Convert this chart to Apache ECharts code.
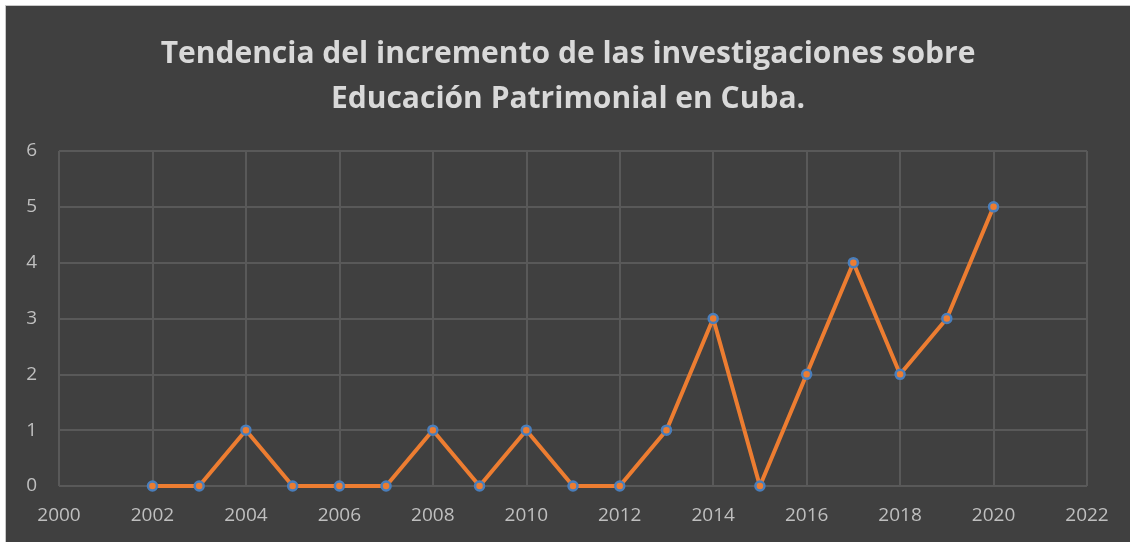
<!DOCTYPE html>
<html>
<head>
<meta charset="utf-8">
<script src="https://cdn.jsdelivr.net/npm/echarts@6/dist/echarts.min.js"></script>
<style>
  html, body { margin: 0; padding: 0; background: #ffffff; }
  #main {
    position: absolute; left: 5px; top: 5px;
    width: 1125px; height: 537px;
    border-left: 1px solid #c8c8c8; border-top: 1px solid #c8c8c8;
    box-sizing: border-box;
  }
</style>
</head>
<body>
<div id="main"></div>
<script>
// años y número de investigaciones
var years = [2002, 2003, 2004, 2005, 2006, 2007, 2008, 2009, 2010, 2011, 2012, 2013, 2014, 2015, 2016, 2017, 2018, 2019, 2020];
var counts = [0, 0, 1, 0, 0, 0, 1, 0, 1, 0, 0, 1, 3, 0, 2, 4, 2, 3, 5];
var titleText = 'Tendencia del incremento de las investigaciones sobre\nEducación Patrimonial en Cuba.';

var points = [];
for (var i = 0; i < years.length; i++) {
  points.push([years[i], counts[i]]);
}

var myChart = echarts.init(document.getElementById('main'));
var option = {
  backgroundColor: '#404040',
  animation: false,
  title: {
    text: titleText,
    left: 'center',
    top: 21,
    textStyle: {
      color: '#d9d9d9',
      fontFamily: 'Open Sans',
      fontWeight: 'bold',
      fontSize: 30,
      lineHeight: 45
    }
  },
  grid: {
    left: 53,
    right: 43,
    top: 145,
    bottom: 56
  },
  xAxis: {
    type: 'value',
    min: 2000,
    max: 2022,
    interval: 2,
    axisLine: { show: false },
    axisTick: { show: false },
    axisLabel: {
      color: '#bfbfbf',
      fontFamily: 'Open Sans',
      fontSize: 19,
      margin: 20,
      formatter: function (v) { return String(v); }
    },
    splitLine: { show: true, lineStyle: { color: '#595959', width: 2 } }
  },
  yAxis: {
    type: 'value',
    min: 0,
    max: 6,
    interval: 1,
    axisLine: { show: false },
    axisTick: { show: false },
    axisLabel: {
      color: '#bfbfbf',
      fontFamily: 'Open Sans',
      fontSize: 19,
      margin: 22
    },
    splitLine: { show: true, lineStyle: { color: '#595959', width: 2 } }
  },
  series: [
    {
      type: 'line',
      data: points,
      symbol: 'circle',
      symbolSize: 9,
      lineStyle: { color: '#ed7d31', width: 4 },
      itemStyle: { color: '#ed7d31', borderColor: '#4a7ebb', borderWidth: 2.5 },
      z: 3
    }
  ]
};
myChart.setOption(option);
</script>
</body>
</html>
